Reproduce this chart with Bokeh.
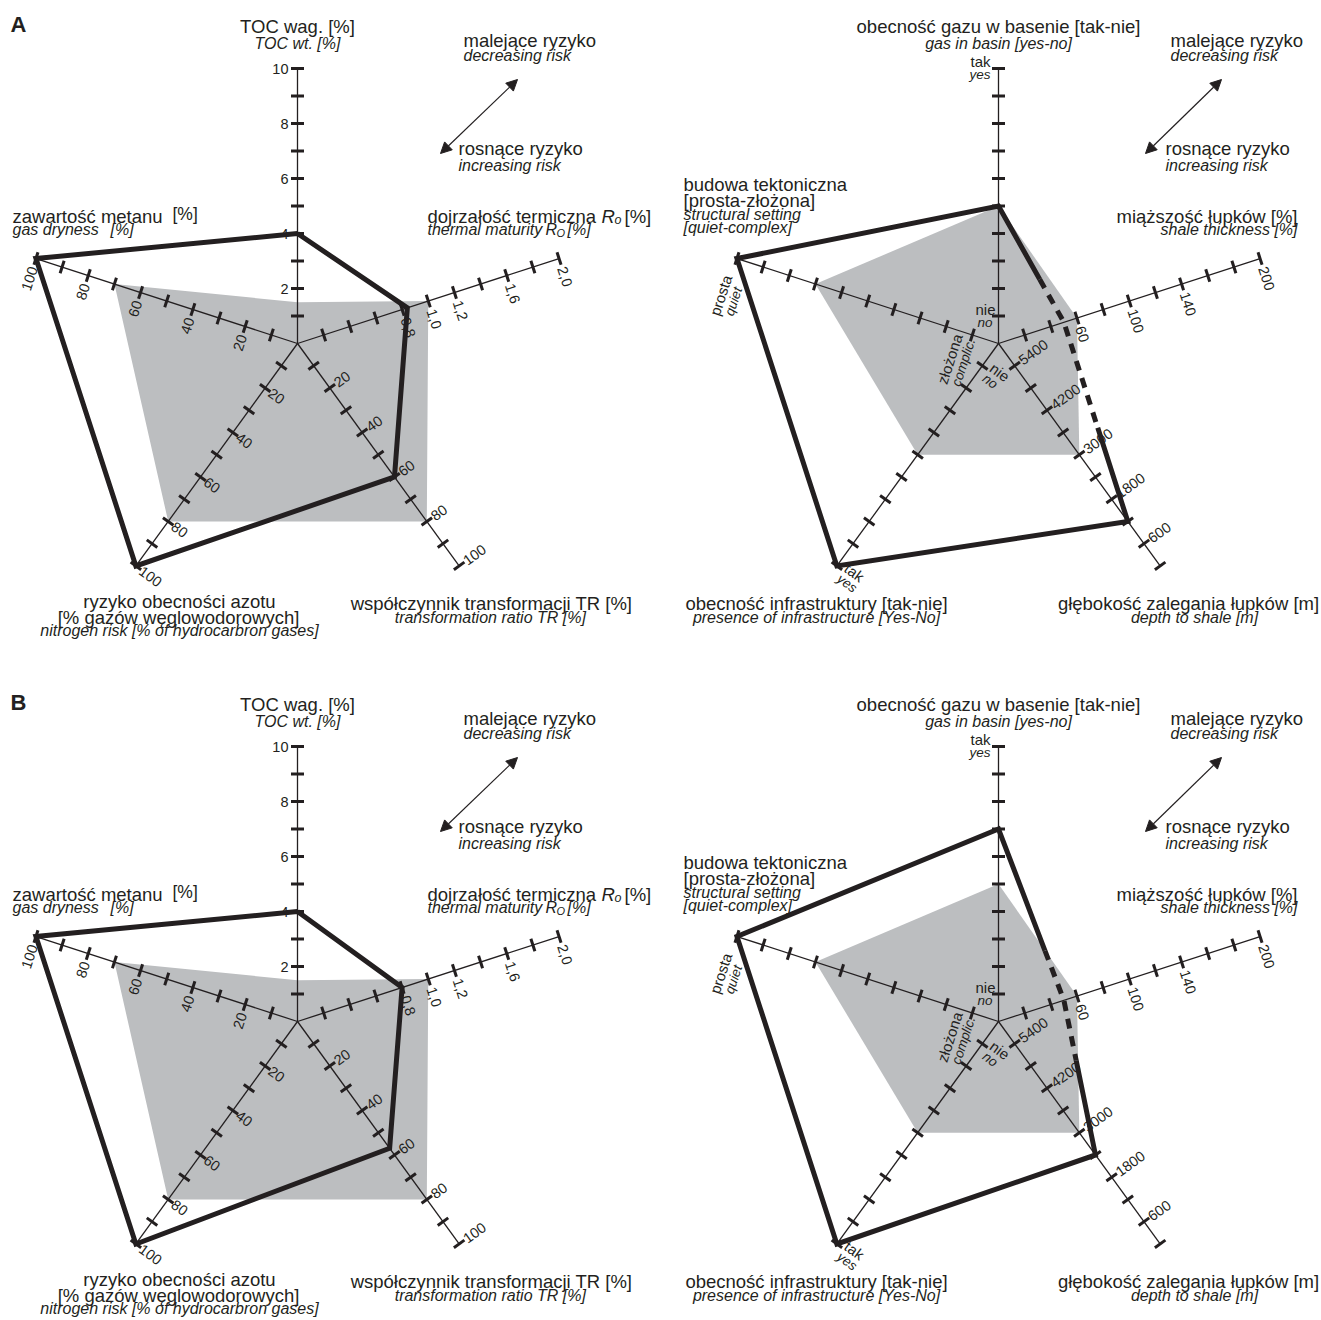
import math
from bokeh.plotting import figure
from bokeh.models import Range1d, Arrow, NormalHead
from bokeh.core.properties import value
from bokeh.embed import file_html
from bokeh.resources import INLINE

W, H = 1321, 1320
FONT = "Liberation Sans"
INK = "#231f20"
GREY = "#bcbec0"
R = 275.0                          # axis length in px
ANGLES = [90, 18, -54, -126, 162]  # axis directions, degrees counter-clockwise

# font sizes
MAIN, ITAL, NUM, SMALL, SMALL_IT = 18.5, 16, 14.5, 15, 13.5

# ---------------- data ----------------
panels = ["A", "B"]

# source-rock radar: TOC, thermal maturity Ro, transformation ratio,
# nitrogen risk, gas dryness
src_min = [0.0, 0.0, 0.0, 0.0, 0.0]
src_max = [10.0, 2.0, 100.0, 100.0, 100.0]
src_ticks = [
    [1, 2, 3, 4, 5, 6, 7, 8, 9, 10],
    [0.2, 0.4, 0.6, 0.8, 1.0, 1.2, 1.4, 1.6, 1.8, 2.0],
    [10, 20, 30, 40, 50, 60, 70, 80, 90, 100],
    [10, 20, 30, 40, 50, 60, 70, 80, 90, 100],
    [10, 20, 30, 40, 50, 60, 70, 80, 90, 100],
]
src_label_values = [
    [2, 4, 6, 8, 10],
    [0.8, 1.0, 1.2, 1.6, 2.0],
    [20, 40, 60, 80, 100],
    [20, 40, 60, 80, 100],
    [20, 40, 60, 80, 100],
]
src_label_texts = [
    ["2", "4", "6", "8", "10"],
    ["0,8", "1,0", "1,2", "1,6", "2,0"],
    ["20", "40", "60", "80", "100"],
    ["20", "40", "60", "80", "100"],
    ["20", "40", "60", "80", "100"],
]
src_envelope = {"A": [1.5, 1.0, 80, 80, 70], "B": [1.5, 1.0, 80, 80, 70]}
src_case = {"A": [4.0, 0.84, 60, 100, 100], "B": [4.0, 0.80, 57, 100, 100]}

# play radar: gas in basin, shale thickness, depth to shale,
# infrastructure, structural setting
play_min = [0, 0, 6000, 0, 0]
play_max = [10, 200, 0, 10, 10]
play_ticks = [
    [1, 2, 3, 4, 5, 6, 7, 8, 9, 10],
    [20, 40, 60, 80, 100, 120, 140, 160, 180, 200],
    [5400, 4800, 4200, 3600, 3000, 2400, 1800, 1200, 600, 0],
    [1, 2, 3, 4, 5, 6, 7, 8, 9, 10],
    [1, 2, 3, 4, 5, 6, 7, 8, 9, 10],
]
play_label_values = [[], [60, 100, 140, 200], [5400, 4200, 3000, 1800, 600], [], []]
play_label_texts = [[], ["60", "100", "140", "200"],
                    ["5400", "4200", "3000", "1800", "600"], [], []]
play_envelope = {"A": [5, 60, 3000, 5, 7], "B": [5, 60, 3000, 5, 7]}
play_case = {"A": [5, 50, 1200, 10, 10], "B": [7, 50, 2400, 10, 10]}
# part of the gas -> thickness edge drawn solid, part of the thickness -> depth edge drawn dashed
play_solid_part = {"A": 0.63, "B": 0.71}
play_dashed_part = {"A": 0.53, "B": 0.39}

# ---------------- layout ----------------
ROW_SHIFT = {"A": 0, "B": 678}
SRC_CX, PLAY_CX, CY = 297, 998, 343

p = figure(width=W, height=H, x_range=Range1d(0, W), y_range=Range1d(0, H),
           toolbar_location=None, output_backend="svg", min_border=0,
           x_axis_location=None, y_axis_location=None)
p.grid.visible = False
p.outline_line_color = None
p.background_fill_color = "white"
p.border_fill_color = "white"


def u(deg):
    a = math.radians(deg)
    return math.cos(a), math.sin(a)


def txt(x, y, s, size=MAIN, style="normal", align="left", baseline="alphabetic", angle=0.0):
    if baseline == "alphabetic":
        # place by the em-box centre, lifted from the requested baseline
        ox, oy = u(angle + 90)
        x, y = x + 0.35 * size * ox, y + 0.35 * size * oy
        baseline = "middle"
    p.text(x=[x], y=[y], text=[s], angle=math.radians(angle),
           text_font=value(FONT), text_font_size=value(f"{size}px"),
           text_font_style=style, text_align=align, text_baseline=baseline,
           text_color=INK)


def ptxt(x, y_page, s, **kw):
    txt(x, H - y_page, s, **kw)


LABEL_RULES = {
    90: dict(angle=0, align="right", off_dir=180, off=9),
    18: dict(angle=-72, align="left", off_dir=-72, off=9),
    -54: dict(angle=36, align="left", off_dir=36, off=7),
    -126: dict(angle=-36, align="left", off_dir=-36, off=6),
    162: dict(angle=72, align="right", off_dir=-108, off=9),
}


def radar(cx_page, cy_page, vmin, vmax, ticks, lab_vals, lab_txts, envelope):
    cx, cy = cx_page, H - cy_page

    def pt(k, v):
        r = (v - vmin[k]) / (vmax[k] - vmin[k]) * R
        ux, uy = u(ANGLES[k])
        return cx + r * ux, cy + r * uy

    env = [pt(k, envelope[k]) for k in range(5)]
    p.patch([q[0] for q in env], [q[1] for q in env], fill_color=GREY, line_color=None)

    axs, ays = [], []
    for k in range(5):
        e = pt(k, vmax[k])
        axs.append([cx, e[0]])
        ays.append([cy, e[1]])
    p.multi_line(axs, ays, line_color=INK, line_width=1.3)

    txs, tys = [], []
    for k in range(5):
        nx, ny = u(ANGLES[k] + 90)
        for v in ticks[k]:
            x, y = pt(k, v)
            txs.append([x - 6.5 * nx, x + 6.5 * nx])
            tys.append([y - 6.5 * ny, y + 6.5 * ny])
    p.multi_line(txs, tys, line_color=INK, line_width=3)

    for k in range(5):
        rule = LABEL_RULES[ANGLES[k]]
        ox, oy = u(rule["off_dir"])
        for v, s in zip(lab_vals[k], lab_txts[k]):
            x, y = pt(k, v)
            txt(x + rule["off"] * ox, y + rule["off"] * oy, s, size=NUM,
                align=rule["align"], baseline="middle", angle=rule["angle"])
    return pt


def arrow(x0, y0, x1, y1):
    p.add_layout(Arrow(
        start=NormalHead(size=11, fill_color=INK, line_color=INK, line_width=1),
        end=NormalHead(size=11, fill_color=INK, line_color=INK, line_width=1),
        x_start=x0, y_start=H - y0, x_end=x1, y_end=H - y1,
        line_color=INK, line_width=1.2))


for name in panels:
    dy = ROW_SHIFT[name]
    cy = CY + dy

    ptxt(10, 32 + dy, name, size=22, style="bold")

    # ---------- source-rock radar ----------
    pt = radar(SRC_CX, cy, src_min, src_max, src_ticks,
               src_label_values, src_label_texts, src_envelope[name])
    case = [pt(k, src_case[name][k]) for k in range(5)]
    case.append(case[0])
    p.line([q[0] for q in case], [q[1] for q in case], line_color=INK,
           line_width=5, line_join="miter")

    ptxt(SRC_CX, 32 + dy, "TOC wag. [%]", align="center")
    ptxt(SRC_CX, 49 + dy, "TOC wt. [%]", size=ITAL, style="italic", align="center")
    ptxt(12, 222 + dy, "zawartość metanu")
    ptxt(172, 220 + dy, "[%]", size=17.5)
    ptxt(12, 235 + dy, "gas dryness", size=ITAL, style="italic")
    ptxt(110, 235 + dy, "[%]", size=ITAL, style="italic")
    ptxt(427, 222 + dy, "dojrzałość termiczna")
    ptxt(601, 222 + dy, "R", style="italic")
    ptxt(614, 224 + dy, "o", size=12.5, style="italic")
    ptxt(624, 222 + dy, "[%]")
    ptxt(427, 235 + dy, "thermal maturity", size=ITAL, style="italic")
    ptxt(545, 235 + dy, "R", size=ITAL, style="italic")
    ptxt(556, 236 + dy, "O", size=11, style="italic")
    ptxt(567, 235 + dy, "[%]", size=ITAL, style="italic")
    ptxt(179, 607 + dy, "ryzyko obecności azotu", align="center")
    ptxt(178, 623 + dy, "[% gazów węglowodorowych]", align="center")
    ptxt(179, 636 + dy, "nitrogen risk [% of hydrocarbron gases]", size=ITAL,
         style="italic", align="center")
    ptxt(491, 609 + dy, "współczynnik transformacji TR [%]", align="center")
    ptxt(492, 623 + dy, "transformation ratio TR  [%]", size=ITAL, style="italic",
         align="center")
    ptxt(463, 46 + dy, "malejące ryzyko")
    ptxt(463, 61 + dy, "decreasing risk", size=ITAL, style="italic")
    ptxt(458, 154 + dy, "rosnące ryzyko")
    ptxt(458, 171 + dy, "increasing risk", size=ITAL, style="italic")
    arrow(440, 153 + dy, 517, 79 + dy)

    # ---------- play radar ----------
    pt = radar(PLAY_CX, cy, play_min, play_max, play_ticks,
               play_label_values, play_label_texts, play_envelope[name])

    # end labels on the yes/no and quiet/complex axes
    x, y = pt(0, 10)
    txt(x - 8, y + 2, "tak", size=SMALL, align="right")
    txt(x - 8, y - 11, "yes", size=SMALL_IT, style="italic", align="right")
    x, y = pt(0, 1)
    txt(x - 3, y + 1.5, "nie", size=SMALL, align="right")
    txt(x - 6, y - 11.5, "no", size=SMALL_IT, style="italic", align="right")

    ax, ay = u(-36)
    upx, upy = u(54)
    for v, top, bottom in ((1, "nie", "no"), (10, "tak", "yes")):
        x, y = pt(3, v)
        bx, by = x + 8 * ax, y + 8 * ay
        txt(bx + 5 * upx, by + 5 * upy, top, size=SMALL, baseline="middle", angle=-36)
        txt(bx - 8 * upx, by - 8 * upy, bottom, size=SMALL_IT, style="italic",
            baseline="middle", angle=-36)

    dx_, dy_ = u(-108)
    ux_, uy_ = u(162)
    x, y = pt(4, 1)
    bx, by = x + 4 * dx_, y + 4 * dy_
    txt(bx + 14 * ux_, by + 14 * uy_, "złożona", size=SMALL, align="right",
        baseline="middle", angle=72)
    txt(bx, by, "complic.", size=SMALL_IT, style="italic", align="right",
        baseline="middle", angle=72)
    x, y = pt(4, 10)
    txt(x + 40 * dx_ + 4 * ux_, y + 40 * dy_ + 4 * uy_, "prosta", size=SMALL,
        align="center", baseline="middle", angle=72)
    txt(x + 42 * dx_ - 10 * ux_, y + 42 * dy_ - 10 * uy_, "quiet", size=SMALL_IT,
        style="italic", align="center", baseline="middle", angle=72)

    # assessed case: the thickness vertex is uncertain, drawn dashed
    c = [pt(k, play_case[name][k]) for k in range(5)]
    gas, thick, depth, infra, struct = c
    f1, f2 = play_solid_part[name], play_dashed_part[name]
    a = (gas[0] + f1 * (thick[0] - gas[0]), gas[1] + f1 * (thick[1] - gas[1]))
    b = (thick[0] + f2 * (depth[0] - thick[0]), thick[1] + f2 * (depth[1] - thick[1]))
    solid = [b, depth, infra, struct, gas, a]
    p.line([q[0] for q in solid], [q[1] for q in solid], line_color=INK,
           line_width=5, line_join="miter")
    dashed = [a, thick, b]
    p.line([q[0] for q in dashed], [q[1] for q in dashed], line_color=INK,
           line_width=5, line_dash="10 8", line_join="miter")

    ptxt(PLAY_CX, 32 + dy, "obecność gazu w basenie [tak-nie]", align="center")
    ptxt(PLAY_CX, 49 + dy, "gas in basin [yes-no]", size=ITAL, style="italic",
         align="center")
    ptxt(1170, 46 + dy, "malejące ryzyko")
    ptxt(1170, 61 + dy, "decreasing risk", size=ITAL, style="italic")
    ptxt(1165, 154 + dy, "rosnące ryzyko")
    ptxt(1165, 171 + dy, "increasing risk", size=ITAL, style="italic")
    arrow(1145, 153 + dy, 1221, 79 + dy)
    ptxt(683, 190 + dy, "budowa tektoniczna")
    ptxt(683, 206 + dy, "[prosta-złożona]")
    ptxt(683, 220 + dy, "structural setting", size=ITAL, style="italic")
    ptxt(683, 233 + dy, "[quiet-complex]", size=ITAL, style="italic")
    ptxt(1297, 222 + dy, "miąższość łupków [%]", align="right")
    ptxt(1297, 235 + dy, "shale thickness [%]", size=ITAL, style="italic", align="right")
    ptxt(816, 609 + dy, "obecność infrastruktury [tak-nie]", align="center")
    ptxt(816, 623 + dy, "presence of infrastructure [Yes-No]", size=ITAL,
         style="italic", align="center")
    ptxt(1188, 609 + dy, "głębokość zalegania łupków [m]", align="center")
    ptxt(1194, 623 + dy, "depth to shale [m]", size=ITAL, style="italic", align="center")

open("out.html", "w").write(file_html(p, INLINE))
